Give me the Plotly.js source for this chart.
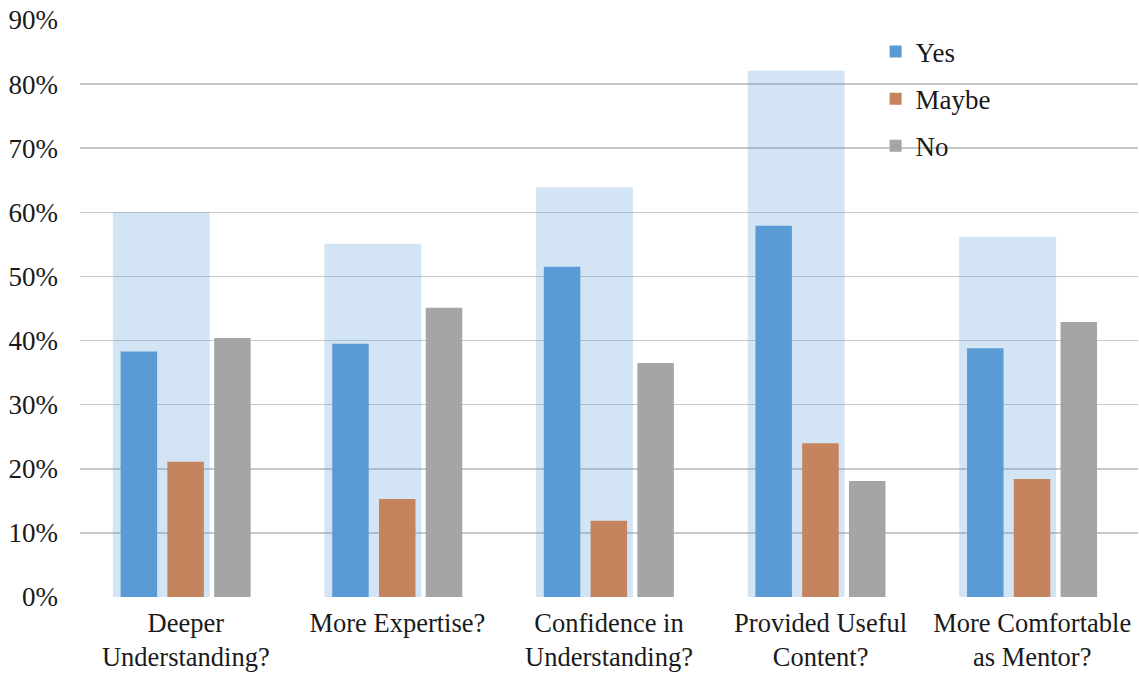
<!DOCTYPE html>
<html>
<head>
<meta charset="utf-8">
<script src="https://cdn.plot.ly/plotly-3.0.1.min.js"></script>
<style>html,body{margin:0;padding:0;background:#fff;}#chart{width:1139px;height:676px;}</style>
</head>
<body>
<div id="chart"></div>
<script>
var categories = ["Deeper<br>Understanding?", "More Expertise?", "Confidence in<br>Understanding?", "Provided Useful<br>Content?", "More Comfortable<br>as Mentor?"];
var yesValues = [0.383, 0.395, 0.515, 0.579, 0.388];
var maybeValues = [0.211, 0.153, 0.119, 0.240, 0.184];
var noValues = [0.404, 0.451, 0.365, 0.181, 0.429];
var backgroundValues = [0.600, 0.551, 0.639, 0.821, 0.562];
var yTickValues = [0, 0.1, 0.2, 0.3, 0.4, 0.5, 0.6, 0.7, 0.8, 0.9];
var yTickLabels = ["0%", "10%", "20%", "30%", "40%", "50%", "60%", "70%", "80%", "90%"];

var font = {family: "Liberation Serif", size: 27, color: "#1a1a1a"};
var xFont = {family: "Liberation Serif", size: 26.5, color: "#1a1a1a"};

var traces = [
  {type: "bar", x: categories, y: backgroundValues, name: "Total", showlegend: false,
   width: 0.458, offset: -0.345, marker: {color: "rgba(91,155,213,0.27)", line: {width: 0}}, hoverinfo: "skip"},
  {type: "bar", x: categories, y: yesValues, name: "Yes", legendgroup: "a",
   width: 0.1725, offset: -0.308, marker: {color: "#5B9BD5", line: {width: 0}}},
  {type: "bar", x: categories, y: maybeValues, name: "Maybe", legendgroup: "b",
   width: 0.1725, offset: -0.087, marker: {color: "#C6845E", line: {width: 0}}},
  {type: "bar", x: categories, y: noValues, name: "No", legendgroup: "c",
   width: 0.1725, offset: 0.134, marker: {color: "#A5A5A5", line: {width: 0}}}
];

var layout = {
  width: 1139, height: 676,
  margin: {l: 80, r: 1, t: 20, b: 79, pad: 0},
  paper_bgcolor: "#ffffff", plot_bgcolor: "#ffffff",
  barmode: "overlay",
  font: font,
  showlegend: true,
  legend: {x: 0.752, y: 0.987, xanchor: "left", yanchor: "top", bgcolor: "rgba(0,0,0,0)",
           font: font, traceorder: "grouped", tracegroupgap: 9},
  xaxis: {type: "category", tickfont: xFont, showgrid: false, zeroline: false, showline: false,
          ticks: "", ticklabelstandoff: 7, range: [-0.5, 4.5], fixedrange: true},
  yaxis: {range: [0, 0.9], tickvals: yTickValues, ticktext: yTickLabels, tickfont: font,
          showgrid: true, gridcolor: "#C8C8C8", gridwidth: 1.5, zeroline: false, showline: false,
          ticks: "", ticklabelstandoff: 21, fixedrange: true}
};

Plotly.newPlot("chart", traces, layout, {staticPlot: true, displayModeBar: false});
</script>
</body>
</html>
